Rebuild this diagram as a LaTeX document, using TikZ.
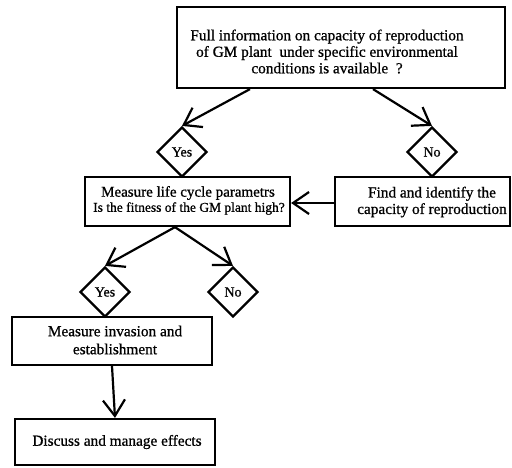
\documentclass[tikz,border=0pt]{standalone}
\usepackage{fontspec}
\setmainfont{Liberation Serif}[FakeBold=0.8]
\usetikzlibrary{arrows.meta,shapes.geometric}

\tikzset{
  box/.style={draw=black, line width=2.2pt, fill=white, inner sep=0pt},
  choice/.style={draw=black, line width=2.2pt, diamond, aspect=1, minimum width=50pt,
    minimum height=50pt, inner sep=0pt, font=\fontsize{14}{16}\selectfont},
  txt/.style={align=center, inner sep=0pt, font=\fontsize{15.3}{16.5}\selectfont},
  flow/.style={line width=2.2pt, -{Straight Barb[length=16pt,width=22pt,line width=2.2pt]}}
}

\begin{document}
\begin{tikzpicture}[x=1pt, y=-1pt]
\useasboundingbox (0,0) rectangle (512,467);

% boxes
\node[box, minimum width=328pt, minimum height=81pt] (top) at (341,47.5) {};
\node[txt] (toptext) at (327,51.5) {Full information on capacity of reproduction\\
  of GM plant\ \ under specific environmental\\ conditions is available\ \ ?};

\node[box, minimum width=205pt, minimum height=49pt] (measure) at (187.5,201.5) {};
\node[txt, font=\fontsize{15}{16}\selectfont] (meas1) at (188,193) {Measure life cycle parametrs};
\node[txt, font=\fontsize{13.5}{15}\selectfont] (meas2) at (189,208.5) {Is the fitness of the GM plant high?};

\node[box, minimum width=175pt, minimum height=49pt] (find) at (422.5,201.5) {};
\node[txt] (findtext) at (432,202) {Find and identify the\\ capacity of reproduction};

\node[box, minimum width=200pt, minimum height=48pt] (invasion) at (112,341) {};
\node[txt, font=\fontsize{15.3}{18}\selectfont] (invtext) at (115,340) {Measure invasion and\\ establishment};

\node[box, minimum width=200pt, minimum height=46pt] (discuss) at (115,442) {};
\node[txt] (distext) at (117,442) {Discuss and manage effects};

% decisions
\node[choice] (yes1) at (182,152) {Yes};
\node[choice] (no1) at (432,152) {No};
\node[choice] (yes2) at (105,292) {Yes};
\node[choice] (no2) at (233,292) {No};

% connectors
\draw[flow] ([xshift=-91pt]top.south) -- (yes1.north);
\draw[flow] ([xshift=32pt]top.south) -- (no1.north);
\draw[flow] ([yshift=-1.5pt]find.west) -- ([yshift=-1.5pt]measure.east);
\draw[flow] ([xshift=-12.5pt]measure.south) -- (yes2.north);
\draw[flow] ([xshift=-12.5pt]measure.south) -- (no2.north);
\draw[flow] (invasion.south) -- (discuss.north);
\end{tikzpicture}
\end{document}
